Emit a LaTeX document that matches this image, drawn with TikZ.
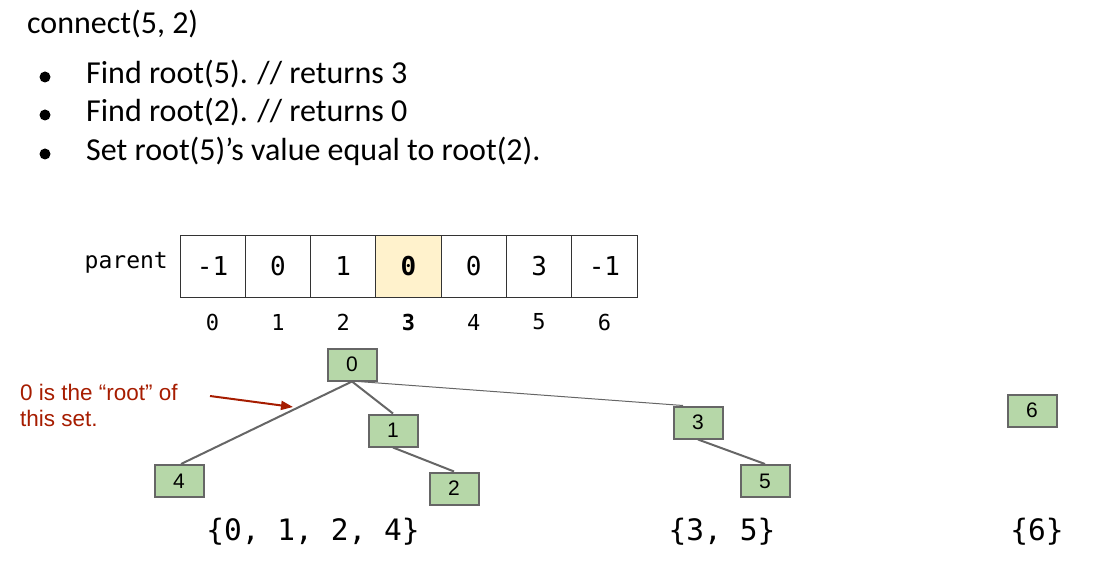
\documentclass[tikz,border=0pt]{standalone}
\usepackage{fontspec}
\setmainfont{Carlito}
\newfontfamily\arialf{Liberation Sans}
\newfontfamily\monof{DejaVu Sans Mono}
\usetikzlibrary{arrows.meta}
\definecolor{cellfill}{HTML}{FFF2CC}
\definecolor{nodefill}{HTML}{B6D7A8}
\definecolor{nodeline}{HTML}{666666}
\definecolor{notered}{HTML}{A61C00}
\tikzset{
  txt/.style={anchor=base west, inner sep=0pt, font=\fontsize{32}{36}\selectfont},
  cellbox/.style={draw=black!80, line width=0.8pt, minimum width=65.3pt, minimum height=62pt, inner sep=0pt, anchor=center, font=\monof\fontsize{26}{30}\selectfont},
  idx/.style={inner sep=0pt, anchor=center, font=\monof\fontsize{22}{26}\selectfont},
  tnode/.style={draw=nodeline, fill=nodefill, line width=2pt, minimum width=49pt, minimum height=32pt, inner sep=0pt, font=\arialf\fontsize{21}{24}\selectfont},
  tedge/.style={draw=nodeline, line width=2pt},
  setlbl/.style={inner sep=0pt, anchor=center, font=\monof\fontsize{29.5}{34}\selectfont},
  notetxt/.style={inner sep=0pt, anchor=base west, text=notered, font=\arialf\fontsize{22.5}{26}\selectfont},
}
\begin{document}
\begin{tikzpicture}[x=1pt,y=-1pt]
\useasboundingbox (0,0) rectangle (1095,569);
% header text
\node[txt] (title) at (27,34) {connect(5, 2)};
\node[txt] (l1) at (86,84) {Find root(5). // returns 3};
\node[txt] (l2) at (86,122) {Find root(2). // returns 0};
\node[txt] (l3) at (86,161) {Set root(5)’s value equal to root(2).};
\fill (45,77) circle (5.5pt);
\fill (45,115) circle (5.5pt);
\fill (45,154) circle (5.5pt);
% array
\node[inner sep=0pt, anchor=east, font=\monof\fontsize{23}{26}\selectfont] (plabel) at (168,263) {parent};
\node[cellbox] (c0) at (212.6,266) {-1};
\node[cellbox] (c1) at (277.9,266) {0};
\node[cellbox] (c2) at (343.2,266) {1};
\node[cellbox, fill=cellfill] (c3) at (408.5,266) {\textbf{0}};
\node[cellbox] (c4) at (473.8,266) {0};
\node[cellbox] (c5) at (539.1,266) {3};
\node[cellbox] (c6) at (604.4,266) {-1};
\node[idx] (i0) at (212.6,322) {0};
\node[idx] (i1) at (277.9,322) {1};
\node[idx] (i2) at (343.2,322) {2};
\node[idx] (i3) at (408.5,322) {\textbf{3}};
\node[idx] (i4) at (473.8,322) {4};
\node[idx] (i5) at (539.1,322) {5};
\node[idx] (i6) at (604.4,322) {6};
% tree
\node[tnode] (n0) at (352,364.5) {0};
\node[tnode] (n1) at (393,430.5) {1};
\node[tnode] (n4) at (179,481) {4};
\node[tnode] (n2) at (454,488.5) {2};
\node[tnode] (n3) at (698,422.5) {3};
\node[tnode] (n5) at (765,481) {5};
\node[tnode] (n6) at (1032,410.5) {6};
\draw[tedge] (n0.south) -- ([xshift=2pt]n4.north);
\draw[tedge] (n0.south) -- (n1.north);
\draw[tedge] (n1.south) -- (n2.north);
\draw[draw=nodeline, line width=1pt] ([xshift=6pt]n0.south) -- ([xshift=-15pt]n3.north);
\draw[tedge] (n3.south) -- (n5.north);
% note
\node[notetxt] (note1) at (20,400) {0 is the “root” of};
\node[notetxt] (note2) at (20,426) {this set.};
\coordinate (ab) at (210,396);
\coordinate (ae) at (293,407);
\draw[notered, line width=2pt, -{Triangle[length=12pt,width=9pt]}] (ab) -- (ae);
% sets
\node[setlbl] (s1) at (313,532) {\{0, 1, 2, 4\}};
\node[setlbl] (s2) at (722,532) {\{3, 5\}};
\node[setlbl] (s3) at (1037,532) {\{6\}};
\end{tikzpicture}
\end{document}
